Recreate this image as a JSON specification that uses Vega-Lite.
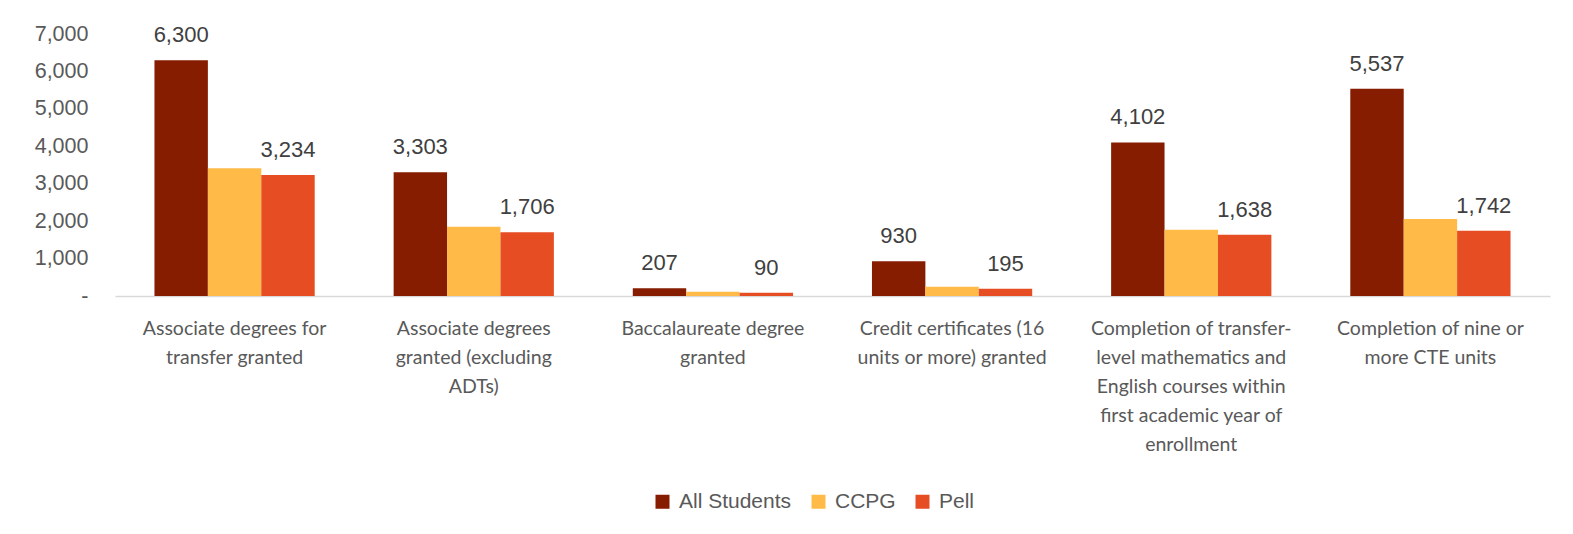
{
  "$schema": "https://vega.github.io/schema/vega-lite/v6.json",
  "autosize": {"type": "none"},
  "padding": {"left": 115, "top": 34, "right": 23, "bottom": 238},
  "width": 1435,
  "height": 262,
  "background": "white",
  "config": {
    "view": {"stroke": null},
    "font": "Liberation Sans"
  },
  "data": {
    "values": [
      {"cat": "Associate degrees for|transfer granted", "series": "All Students", "value": 6300},
      {"cat": "Associate degrees for|transfer granted", "series": "CCPG", "value": 3410},
      {"cat": "Associate degrees for|transfer granted", "series": "Pell", "value": 3234},
      {"cat": "Associate degrees|granted (excluding|ADTs)", "series": "All Students", "value": 3303},
      {"cat": "Associate degrees|granted (excluding|ADTs)", "series": "CCPG", "value": 1850},
      {"cat": "Associate degrees|granted (excluding|ADTs)", "series": "Pell", "value": 1706},
      {"cat": "Baccalaureate degree|granted", "series": "All Students", "value": 207},
      {"cat": "Baccalaureate degree|granted", "series": "CCPG", "value": 115},
      {"cat": "Baccalaureate degree|granted", "series": "Pell", "value": 90},
      {"cat": "Credit certificates (16|units or more) granted", "series": "All Students", "value": 930},
      {"cat": "Credit certificates (16|units or more) granted", "series": "CCPG", "value": 250},
      {"cat": "Credit certificates (16|units or more) granted", "series": "Pell", "value": 195},
      {"cat": "Completion of transfer-|level mathematics and|English courses within|first academic year of|enrollment", "series": "All Students", "value": 4102},
      {"cat": "Completion of transfer-|level mathematics and|English courses within|first academic year of|enrollment", "series": "CCPG", "value": 1770},
      {"cat": "Completion of transfer-|level mathematics and|English courses within|first academic year of|enrollment", "series": "Pell", "value": 1638},
      {"cat": "Completion of nine or|more CTE units", "series": "All Students", "value": 5537},
      {"cat": "Completion of nine or|more CTE units", "series": "CCPG", "value": 2055},
      {"cat": "Completion of nine or|more CTE units", "series": "Pell", "value": 1742}
    ]
  },
  "encoding": {
    "x": {
      "field": "cat",
      "type": "nominal",
      "sort": null,
      "title": null,
      "scale": {"paddingInner": 0.33, "paddingOuter": 0.165},
      "axis": {
        "labelAngle": 0,
        "labelExpr": "split(datum.label, '|')",
        "labelFont": "Lato",
        "labelFontSize": 19.5,
        "labelLineHeight": 29,
        "labelColor": "#595959",
        "labelPadding": 23,
        "labelLimit": 400,
        "ticks": false,
        "domainColor": "#D9D9D9",
        "domainWidth": 1.5,
        "labelBaseline": "top"
      }
    },
    "xOffset": {"field": "series", "type": "nominal", "sort": ["All Students", "CCPG", "Pell"], "scale": {"paddingInner": 0, "paddingOuter": 0}},
    "y": {
      "field": "value",
      "type": "quantitative",
      "title": null,
      "scale": {"domain": [0, 7000], "nice": false},
      "axis": {
        "values": [0, 1000, 2000, 3000, 4000, 5000, 6000, 7000],
        "labelExpr": "datum.value == 0 ? '-' : format(datum.value, ',')",
        "labelFontSize": 21.5,
        "labelColor": "#595959",
        "labelPadding": 27,
        "grid": false,
        "ticks": false,
        "domain": false
      }
    }
  },
  "layer": [
    {
      "mark": {"type": "bar"},
      "encoding": {
        "color": {
          "field": "series",
          "type": "nominal",
          "sort": ["All Students", "CCPG", "Pell"],
          "scale": {"domain": ["All Students", "CCPG", "Pell"], "range": ["#861C00", "#FFBA47", "#E64D23"]},
          "legend": {
            "orient": "none",
            "legendX": 537,
            "legendY": 457,
            "direction": "horizontal",
            "title": null,
            "symbolType": "square",
            "symbolSize": 196,
            "symbolStrokeWidth": 0,
            "labelFontSize": 21,
            "labelColor": "#595959",
            "labelOffset": 6,
            "columnPadding": 16
          }
        }
      }
    },
    {
      "transform": [{"filter": "datum.series != 'CCPG'"}],
      "mark": {"type": "text", "baseline": "alphabetic", "dy": -18, "fontSize": 22, "color": "#404040"},
      "encoding": {
        "text": {"field": "value", "type": "quantitative", "format": ","}
      }
    }
  ]
}
